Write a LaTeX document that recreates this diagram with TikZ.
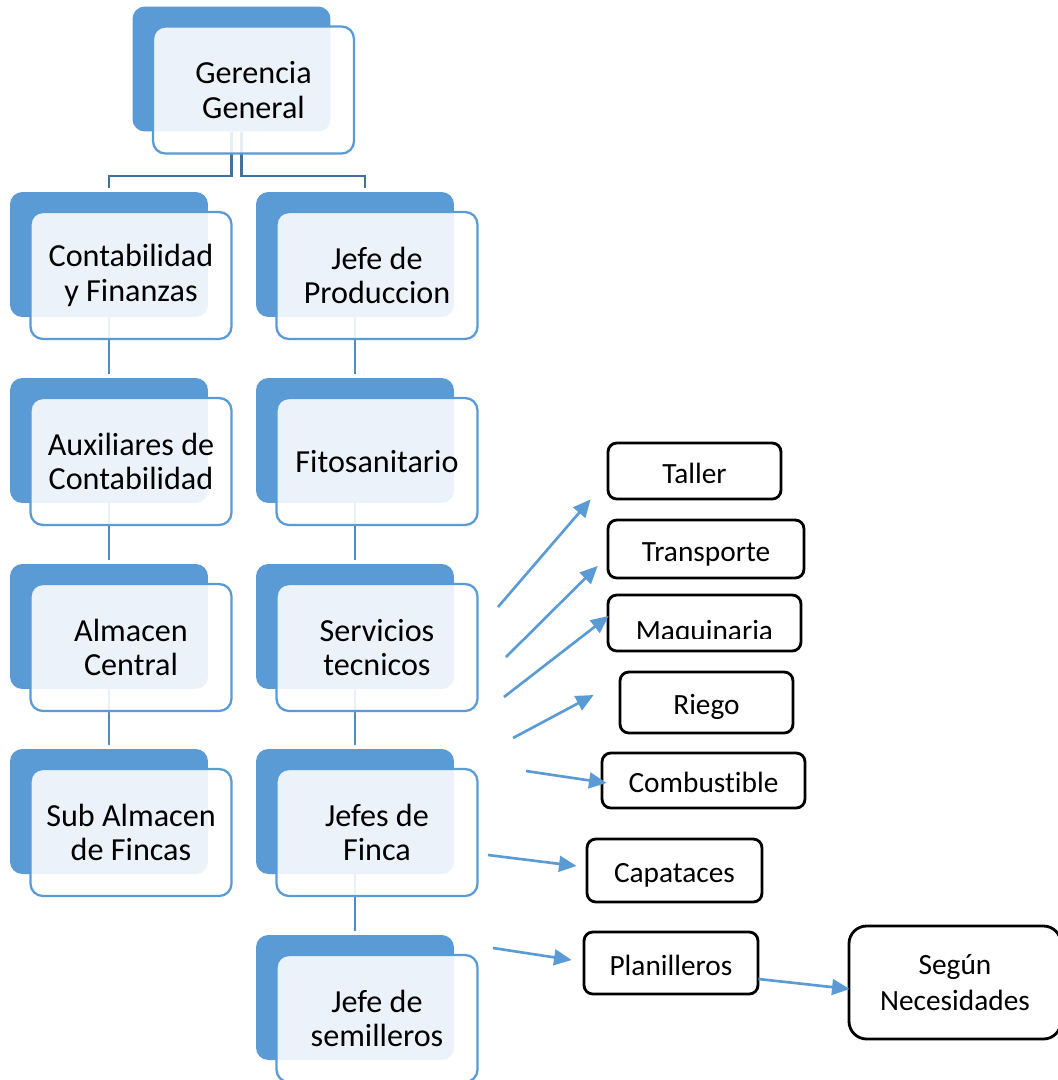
\documentclass[tikz,border=0pt]{standalone}
\usepackage{fontspec}
\setmainfont{Carlito}[Ligatures=NoCommon]
\usetikzlibrary{arrows.meta,calc,positioning}
\definecolor{azul}{HTML}{5B9BD5}
\definecolor{azuloscuro}{HTML}{41719C}

\begin{document}
\begin{tikzpicture}[x=0.02cm,y=-0.02cm,
    fondo/.style={fill=azul,rounded corners=7pt,inner sep=0pt,
      minimum width=3.96cm,minimum height=2.5cm},
    frente/.style={draw=azul,line width=1.3pt,fill=white,fill opacity=0.88,
      text opacity=1,rounded corners=7pt,inner sep=0pt,align=center,
      minimum width=4.02cm,minimum height=2.54cm,
      font=\fontsize{18.3}{19.5}\selectfont},
    caja/.style={draw=black,line width=1.6pt,fill=white,rounded corners=5pt,
      inner sep=0pt,align=center,text height=14pt,text depth=0pt,
      font=\fontsize{16.7}{20.5}\selectfont},
    conector/.style={azul!90!black,line width=1.3pt},
    flecha/.style={azul,line width=1.5pt,-{Triangle[length=10pt,width=9pt]}}]

\path[fill=white,use as bounding box] (0,0) rectangle (1058,1080);

% nombre / x / y / texto
\def\cajas{ger/231.5/69/{Gerencia\\General},
  cont/109/254.5/{Contabilidad\\y Finanzas},
  jefe/355/254.5/{Jefe de\\Produccion},
  aux/109/440.5/{Auxiliares de\\Contabilidad},
  fito/355/440.5/{Fitosanitario},
  alm/109/626.5/{Almacen\\Central},
  serv/355/626.5/{Servicios\\tecnicos},
  sub/109/811.5/{Sub Almacen\\de Fincas},
  finca/355/811.5/{Jefes de\\Finca},
  sem/355/997.5/{Jefe de\\semilleros}}

%fondo azul
\foreach \n/\x/\y/\t in \cajas
  \node[fondo] (b-\n) at (\x,\y) {};

%lineas
\draw[azuloscuro,line width=1.3pt] (b-ger.south) -- ++(0,44)
  -| ([yshift=2pt]b-cont.north);
\draw[azuloscuro,line width=1.3pt] ([xshift=0.2cm]b-ger.south) -- ++(0,44)
  -| ([xshift=0.2cm,yshift=2pt]b-jefe.north);
\draw[conector] (b-cont.south) -- ([yshift=2pt]b-aux.north);
\draw[conector] (b-aux.south) -- ([yshift=2pt]b-alm.north);
\draw[conector] (b-alm.south) -- ([yshift=2pt]b-sub.north);
\draw[conector] (b-jefe.south) -- ([yshift=2pt]b-fito.north);
\draw[conector] (b-fito.south) -- ([yshift=2pt]b-serv.north);
\draw[conector] (b-serv.south) -- ([yshift=2pt]b-finca.north);
\draw[conector] (b-finca.south) -- ([yshift=2pt]b-sem.north);

%cajas con texto
\foreach \n/\x/\y/\t in \cajas
  \node[frente] (\n) at (\x+22,\y+21) {\t};

%areas de servicios tecnicos
\node[caja,minimum width=3.46cm,minimum height=1.12cm] (taller) at (694.5,471) {Taller};
\node[caja,minimum width=3.92cm,minimum height=1.16cm] (trans) at (706,549) {Transporte};
\node[caja,minimum width=3.86cm,minimum height=1.12cm] (maq) at (704.5,623) {};
\begin{scope}
  \clip (maq.north west) rectangle ($(maq.south east)+(0,-14)$);
  \node[font=\fontsize{16.7}{20.5}\selectfont,anchor=base,inner sep=0pt]
    (maq-t) at ($(maq.south)+(0,-12)$) {Maquinaria};
\end{scope}
\node[caja,minimum width=3.46cm,minimum height=1.22cm] (riego) at (706.5,702.5) {Riego};
\node[caja,minimum width=4.06cm,minimum height=1.10cm] (comb) at (703.5,780.5) {Combustible};
\node[caja,minimum width=3.50cm,minimum height=1.26cm] (capa) at (674.5,870.5) {Capataces};
\node[caja,minimum width=3.48cm,minimum height=1.24cm] (plan) at (671,963) {Planilleros};
\node[caja,rounded corners=10pt,text height=,text depth=,
  minimum width=4.24cm,minimum height=2.26cm] (segun) at (955,982.5) {Según\\Necesidades};

%flechas
\coordinate (s1) at (498,607);
\coordinate (s2) at (506,657);
\coordinate (s3) at (504,697);
\coordinate (s4) at (513,738);
\coordinate (s5) at (526,771);
\coordinate (s6) at (488,855);
\coordinate (s7) at (493,948);
\draw[flecha] (s1) -- ($(taller.south west)+(-16,-1)$);
\draw[flecha] (s2) -- ($(trans.west)+(-9,17)$);
\draw[flecha] (s3) -- ($(maq.west)+(2,-7)$);
\draw[flecha] (s4) -- ($(riego.west)+(-25,-7.5)$);
\draw[flecha] (s5) -- ($(comb.west)+(6,2.5)$);
\draw[flecha] (s6) -- ($(capa.west)+(-9,-4.5)$);
\draw[flecha] (s7) -- ($(plan.west)+(-11,-3)$);
\draw[flecha] ($(plan.east)+(-1,16)$) -- ($(segun.west)+(2,6.5)$);
\end{tikzpicture}
\end{document}
